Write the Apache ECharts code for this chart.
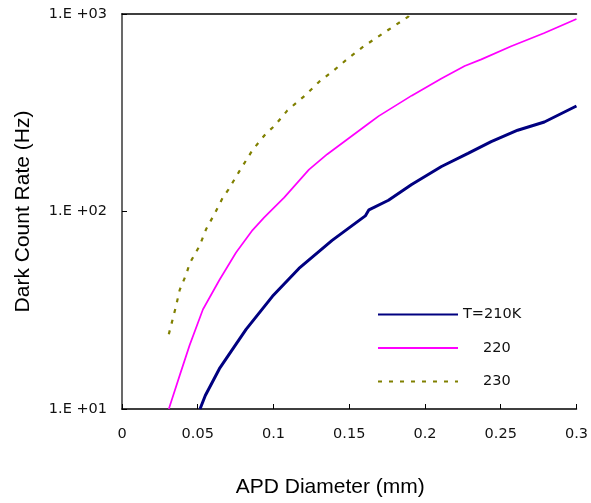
<!DOCTYPE html>
<html>
<head>
<meta charset="utf-8">
<script src="https://cdn.jsdelivr.net/npm/echarts@6/dist/echarts.min.js"></script>
<style>
html,body{margin:0;padding:0;background:#fff;}
#chart{width:591px;height:503px;}
</style>
</head>
<body>
<div id="chart"></div>
<script>
// Data
var seriesNames = ['T=210K', '220', '230'];
var xTicks = [0, 0.05, 0.1, 0.15, 0.2, 0.25, 0.3];
var yTickLabels = {10: '1.E +01', 100: '1.E +02', 1000: '1.E +03'};

var x210 = [0.0515, 0.055, 0.0643, 0.0819, 0.0993, 0.1168, 0.1387, 0.1606, 0.163, 0.1759, 0.1912, 0.2109, 0.2284, 0.2437, 0.2612, 0.2788, 0.3];
var y210 = [10, 11.7, 16.0, 25.3, 37.2, 51.5, 71.4, 95, 102, 114, 137, 169, 197, 226, 258, 284, 342];

var x220 = [0.0309, 0.0381, 0.0446, 0.0534, 0.0643, 0.0753, 0.0862, 0.0939, 0.0972, 0.107, 0.1234, 0.1355, 0.1628, 0.1694, 0.1912, 0.2109, 0.2262, 0.2372, 0.2569, 0.2788, 0.3];
var y220 = [10, 14.8, 21.0, 31.9, 45.0, 62.0, 80.5, 93.3, 98.9, 117.5, 163, 195, 279, 304, 386, 472, 545, 589, 686, 801, 944];

var x230 = [0.0309, 0.0355, 0.0381, 0.0425, 0.0446, 0.0512, 0.0556, 0.061, 0.0665, 0.0702, 0.0775, 0.0862, 0.095, 0.1004, 0.1092, 0.1212, 0.13, 0.1394, 0.1497, 0.1595, 0.1759, 0.189, 0.1897];
var y230 = [23.9, 32.8, 40.1, 48.3, 54.5, 67.0, 81.6, 97, 117.5, 129, 160, 205, 248, 270, 325, 389, 453, 515, 600, 686, 832, 970, 1000];

function zip(xs, ys) { return xs.map(function (x, i) { return [x, ys[i]]; }); }

var chart = echarts.init(document.getElementById('chart'), null, {renderer: 'canvas'});
var font = 'Liberation Sans, Arial, sans-serif';
var tickFont = 'DejaVu Sans, sans-serif';
chart.setOption({
  animation: false,
  backgroundColor: '#fff',
  grid: {left: 122, right: 12, top: 14, bottom: 89, containLabel: false},
  xAxis: [{
    type: 'value', min: 0, max: 0.3, interval: 0.05,
    name: 'APD Diameter (mm)', nameLocation: 'middle', nameGap: 68,
    nameTextStyle: {fontFamily: font, fontSize: 21, color: '#000', padding: [0, 38, 0, 0]},
    axisLine: {show: true, lineStyle: {color: '#000', width: 1.5}},
    axisTick: {show: true, inside: true, length: 5, lineStyle: {color: '#000'}},
    axisLabel: {fontFamily: tickFont, fontSize: 14.5, color: '#111', margin: 18,
      formatter: function (v) { return String(+v.toFixed(2)); }},
    splitLine: {show: false}
  }, {
    type: 'value', min: 0, max: 0.3, position: 'top',
    axisLine: {show: true, lineStyle: {color: '#000', width: 1.5}},
    axisTick: {show: false}, axisLabel: {show: false}, splitLine: {show: false}
  }],
  yAxis: [{
    type: 'log', logBase: 10, min: 10, max: 1000,
    name: 'Dark Count Rate (Hz)', nameLocation: 'middle', nameGap: 88,
    nameTextStyle: {fontFamily: font, fontSize: 21, color: '#000'},
    axisLine: {show: true, lineStyle: {color: '#000', width: 1.5}},
    axisTick: {show: true, inside: true, length: 5, lineStyle: {color: '#000'}},
    minorTick: {show: false},
    axisLabel: {fontFamily: tickFont, fontSize: 14.5, color: '#111', margin: 15,
      formatter: function (v) { return yTickLabels[Math.round(v)] || ''; }},
    splitLine: {show: false}
  }, {
    type: 'log', logBase: 10, min: 10, max: 1000, position: 'right',
    axisLine: {show: true, lineStyle: {color: '#777', width: 1.5}},
    axisTick: {show: false}, axisLabel: {show: false}, splitLine: {show: false}
  }],
  legend: {
    orient: 'vertical', left: 372, top: 302,
    itemWidth: 80, itemHeight: 14, itemGap: 18.5,
    data: seriesNames,
    itemStyle: {opacity: 0},
    textStyle: {fontFamily: tickFont, fontSize: 14.5, color: '#111',
      rich: {pad: {width: 20}}},
    formatter: function (n) { return n === 'T=210K' ? n : '{pad|}' + n; }
  },
  series: [{
    name: seriesNames[0], type: 'line', symbol: 'none', smooth: false,
    data: zip(x210, y210),
    lineStyle: {color: '#000080', width: 3}, itemStyle: {color: '#000080'}
  }, {
    name: seriesNames[1], type: 'line', symbol: 'none',
    data: zip(x220, y220),
    lineStyle: {color: '#ff00ff', width: 1.7}, itemStyle: {color: '#ff00ff'}
  }, {
    name: seriesNames[2], type: 'line', symbol: 'none',
    data: zip(x230, y230),
    lineStyle: {color: '#808000', width: 2.2, type: [4, 7]}, itemStyle: {color: '#808000'}
  }]
});
</script>
</body>
</html>
